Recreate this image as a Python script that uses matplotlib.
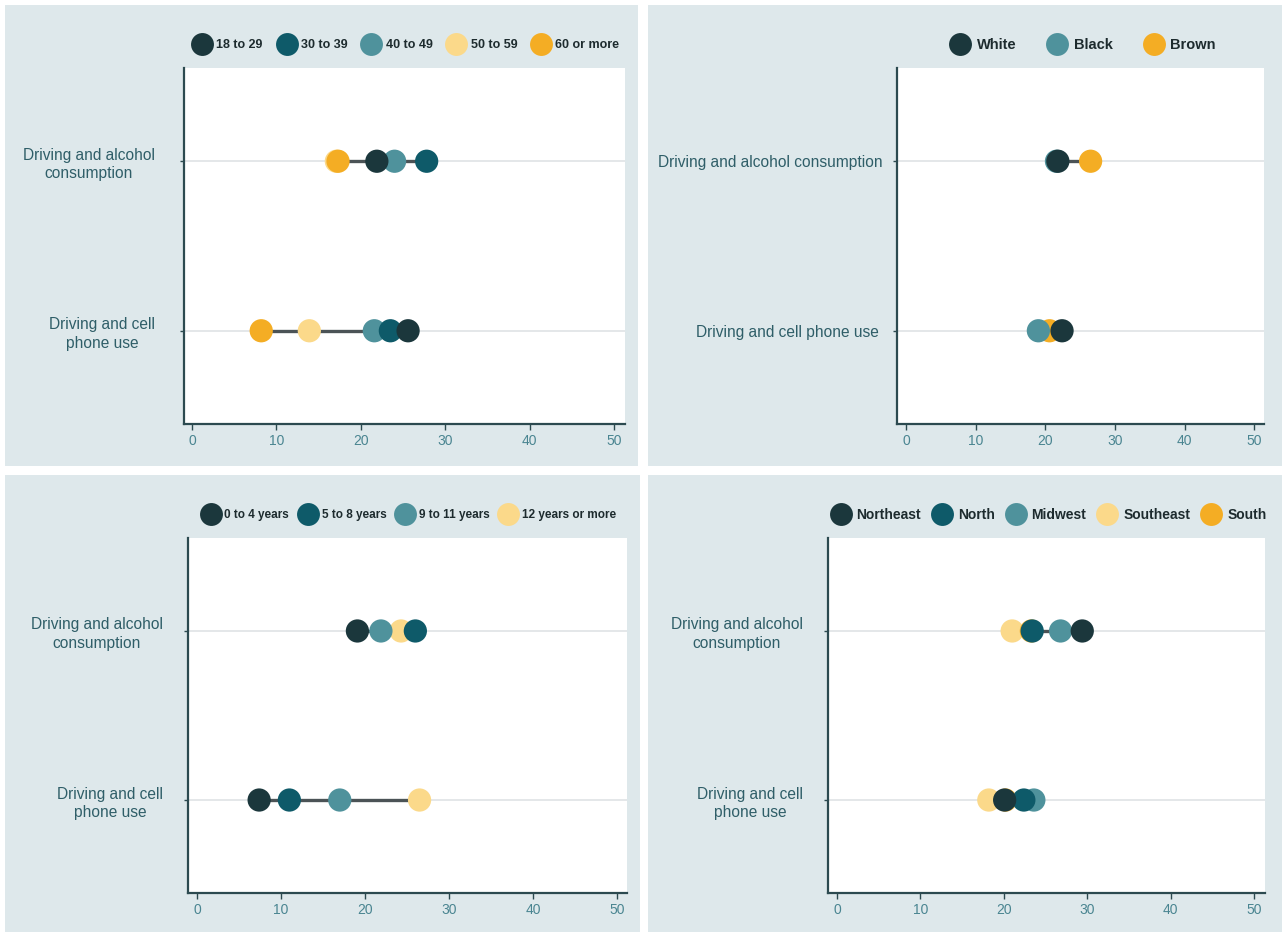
"""Dumbbell panels: risky driving behaviours by age, race, schooling and region."""

import matplotlib

matplotlib.use("Agg")
import matplotlib.pyplot as plt  # noqa: E402
from matplotlib.lines import Line2D  # noqa: E402
from matplotlib.patches import Rectangle  # noqa: E402
from matplotlib.transforms import ScaledTranslation  # noqa: E402

plt.rcParams["font.family"] = ["Liberation Sans", "DejaVu Sans"]

W, H = 1282, 934

# rows, bottom to top
BEHAVIOURS_WRAPPED = ["Driving and cell\nphone use", "Driving and alcohol\nconsumption"]
BEHAVIOURS_FLAT = ["Driving and cell phone use ", "Driving and alcohol consumption"]

AGE_GROUPS = ["18 to 29", "30 to 39", "40 to 49", "50 to 59", "60 or more"]
AGE_CELL = [25.6, 23.5, 21.6, 13.9, 8.2]
AGE_ALCOHOL = [21.9, 27.8, 24.0, 17.1, 17.3]

RACE_GROUPS = ["White", "Black", "Brown"]
RACE_CELL = [22.4, 19.0, 20.6]
RACE_ALCOHOL = [21.8, 21.6, 26.5]

SCHOOL_GROUPS = ["0 to 4 years", "5 to 8 years", "9 to 11 years", "12 years or more"]
SCHOOL_CELL = [7.4, 11.0, 17.0, 26.5]
SCHOOL_ALCOHOL = [19.1, 26.0, 21.9, 24.3]

REGION_GROUPS = ["Northeast", "North", "Midwest", "Southeast", "South"]
REGION_CELL = [20.1, 22.4, 23.6, 18.2, 20.2]
REGION_ALCOHOL = [29.4, 23.4, 26.8, 21.0, 23.3]

DARK = "#1b373c"
TEAL = "#0e5a69"
LIGHT_TEAL = "#4f929c"
PALE = "#fbd98a"
ORANGE = "#f4ad24"
# darker dots sit on top of lighter ones
LAYER = {PALE: 3, ORANGE: 4, LIGHT_TEAL: 5, TEAL: 6, DARK: 7}

PANEL_BG = "#dee8eb"
LABEL_COLOR = "#2f5e68"
TICK_COLOR = "#4a8591"
SPINE_COLOR = "#2c4a50"


def px_rect(left, top, right, bottom):
    return [left / W, 1 - bottom / H, (right - left) / W, (bottom - top) / H]


def draw_panel(fig, rect, xlim, groups, colors, cell, alcohol, row_labels,
               label_pad, legend_size, colspacing):
    ax = fig.add_axes(px_rect(*rect))
    ax.set_facecolor("white")
    rows = [cell, alcohol]
    for y, vals in enumerate(rows):
        ax.axhline(y, color="#e2e5e7", lw=1.3, zorder=1)
        ax.plot([min(vals), max(vals)], [y, y], color="#4b5356", lw=2.4, zorder=2,
                solid_capstyle="butt")
        for val, col in zip(vals, colors):
            ax.scatter(val, y, s=280, color=col, edgecolors="none", zorder=LAYER[col])

    ax.set_xlim(*xlim)
    ax.set_ylim(-0.55, 1.55)
    ax.set_xticks([0, 10, 20, 30, 40, 50])
    ax.set_yticks([0, 1])
    ax.set_yticklabels(row_labels)
    # wrapped labels hang slightly below their row in the original
    shift = 5 if "\n" in row_labels[0] else 0
    offset = ScaledTranslation(0, -shift / 100, fig.dpi_scale_trans)
    for lbl in ax.get_yticklabels():
        lbl.set_multialignment("center")
        lbl.set_linespacing(1.3)
        lbl.set_transform(lbl.get_transform() + offset)
    ax.tick_params(axis="x", colors=TICK_COLOR, labelsize=10, length=4, width=1, pad=3)
    ax.tick_params(axis="x", color=SPINE_COLOR)
    ax.tick_params(axis="y", labelcolor=LABEL_COLOR, labelsize=11.2, length=3, width=1,
                   color=SPINE_COLOR, pad=label_pad)
    for side in ("top", "right"):
        ax.spines[side].set_visible(False)
    for side in ("left", "bottom"):
        ax.spines[side].set_color(SPINE_COLOR)
        ax.spines[side].set_linewidth(1.6)

    handles = [Line2D([], [], ls="none", marker="o", markersize=16.5, color=c,
                      markeredgewidth=0) for c in colors]
    ax.legend(handles, groups, loc="center", bbox_to_anchor=(0.5, 1 + 23 / 356),
              ncol=len(groups), frameon=False, handletextpad=0.15,
              columnspacing=colspacing, borderaxespad=0,
              prop={"size": legend_size, "weight": "bold"}, labelcolor="#1d2b2e")
    return ax


fig = plt.figure(figsize=(W / 100, H / 100), dpi=100)
fig.patch.set_facecolor("white")
for left, top, right, bottom in [(5, 5, 638, 466), (648, 5, 1282, 466),
                                 (5, 475, 640, 932), (648, 475, 1282, 932)]:
    x0, y0, w, h = px_rect(left, top, right, bottom)
    fig.add_artist(Rectangle((x0, y0), w, h, transform=fig.transFigure,
                             facecolor=PANEL_BG, edgecolor="none", zorder=0))

draw_panel(fig, (184, 68, 625, 424), (-0.95, 51.3), AGE_GROUPS,
           [DARK, TEAL, LIGHT_TEAL, PALE, ORANGE], AGE_CELL, AGE_ALCOHOL,
           BEHAVIOURS_WRAPPED, 18, 9, 0.9)
draw_panel(fig, (897, 68, 1264, 424), (-1.3, 51.4), RACE_GROUPS,
           [DARK, LIGHT_TEAL, ORANGE], RACE_CELL, RACE_ALCOHOL,
           BEHAVIOURS_FLAT, 7, 10.5, 1.8)
draw_panel(fig, (188, 538, 627, 893), (-1.07, 51.2), SCHOOL_GROUPS,
           [DARK, TEAL, LIGHT_TEAL, PALE], SCHOOL_CELL, SCHOOL_ALCOHOL,
           BEHAVIOURS_WRAPPED, 15, 8.5, 0.6)
draw_panel(fig, (828, 538, 1265, 893), (-1.07, 51.3), REGION_GROUPS,
           [DARK, TEAL, LIGHT_TEAL, PALE, ORANGE], REGION_CELL, REGION_ALCOHOL,
           BEHAVIOURS_WRAPPED, 15, 10, 0.5)

fig.savefig("out.png", dpi=100, facecolor=fig.get_facecolor())
